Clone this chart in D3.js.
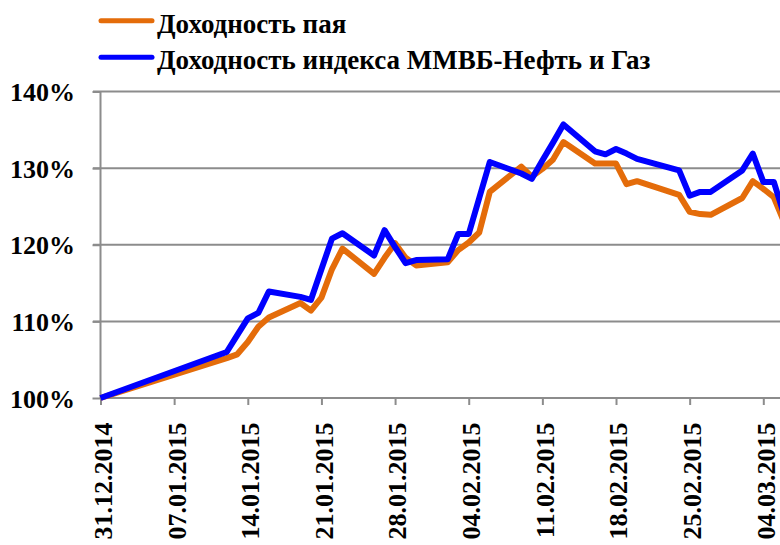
<!DOCTYPE html>
<html><head><meta charset="utf-8">
<script src="https://cdn.jsdelivr.net/npm/d3@7"></script>
<style>
html,body{margin:0;padding:0;background:#fff;}
svg{display:block;}
text{font-family:"Liberation Serif","Times New Roman",serif;font-weight:bold;fill:#000;}
</style></head>
<body>
<svg id="c" width="780" height="545"></svg>
<script>
const dates = ["31.12.2014","12.01.2015","13.01.2015","14.01.2015","15.01.2015","16.01.2015","19.01.2015","20.01.2015","21.01.2015","22.01.2015","23.01.2015","26.01.2015","27.01.2015","28.01.2015","29.01.2015","30.01.2015","02.02.2015","03.02.2015","04.02.2015","05.02.2015","06.02.2015","09.02.2015","10.02.2015","11.02.2015","12.02.2015","13.02.2015","16.02.2015","17.02.2015","18.02.2015","19.02.2015","20.02.2015","24.02.2015","25.02.2015","26.02.2015","27.02.2015","02.03.2015","03.03.2015","04.03.2015","05.03.2015","06.03.2015"];
const fundReturn = [100.0,105.2,105.7,107.3,109.3,110.5,112.4,111.4,113.1,116.8,119.5,116.2,118.3,120.2,118.3,117.3,117.7,119.3,120.3,121.6,126.9,130.2,128.9,129.9,131.1,133.4,130.6,130.6,130.6,127.9,128.3,126.5,124.3,124.0,123.9,126.1,128.3,127.3,126.2,122.9];
const indexReturn = [100.0,106.0,108.2,110.4,111.1,113.9,113.2,112.8,116.8,120.8,121.5,118.6,121.9,119.7,117.6,118.0,118.1,121.4,121.4,126.1,130.8,129.3,128.6,131.0,133.3,135.7,132.2,131.8,132.5,131.9,131.2,129.7,126.4,126.9,126.9,129.7,131.9,128.2,128.2,123.8];
const xTickLabels = ["31.12.2014","07.01.2015","14.01.2015","21.01.2015","28.01.2015","04.02.2015","11.02.2015","18.02.2015","25.02.2015","04.03.2015"];
const yTicks = [100,110,120,130,140];
const seriesNames = ["Доходность пая","Доходность индекса ММВБ-Нефть и Газ"];
const seriesColors = ["#E46C0A","#0000FF"];

const parse = d3.timeParse("%d.%m.%Y");
const svg = d3.select("#c");
const x = d3.scaleTime().domain([parse("31.12.2014"), parse("04.03.2015")]).range([100.5, 763.3]);
const y = d3.scaleLinear().domain([100,140]).range([398,91.5]);
const right = 780;
const grid = "#8C8C8C";
const FONT = "'Liberation Serif','Times New Roman',serif";

// gridlines
svg.append("g").selectAll("line").data(yTicks.filter(v=>v>100)).join("line")
  .attr("x1",93).attr("x2",right).attr("y1",d=>y(d)).attr("y2",d=>y(d))
  .attr("stroke",grid).attr("stroke-width",2);

// y axis
const yAxis = d3.axisLeft(y).tickValues(yTicks).tickSize(8).tickFormat(d=>d+"%");
const gy = svg.append("g").attr("transform","translate(100.5,0)").call(yAxis);
gy.select(".domain").attr("stroke",grid).attr("stroke-width",2).attr("d","M0,91.5V398");
gy.selectAll(".tick line").attr("stroke",grid).attr("stroke-width",2);
gy.selectAll(".tick text").attr("x",-25.5).attr("dy","0.35em")
  .style("font-size","26px").style("font-family",FONT).style("font-weight","bold");

// x axis
const tickDates = xTickLabels.map(parse);
const xAxis = d3.axisBottom(x).tickValues(tickDates).tickSize(7).tickFormat(d3.timeFormat("%d.%m.%Y"));
const gx = svg.append("g").attr("transform","translate(0,398)").call(xAxis);
gx.select(".domain").attr("stroke",grid).attr("stroke-width",2).attr("d","M100.5,0H"+right);
gx.selectAll(".tick line").attr("stroke",grid).attr("stroke-width",2);
gx.selectAll(".tick text")
  .attr("transform","translate(0,24.5) rotate(-90)")
  .attr("x",0).attr("y",0).attr("dy","0.42em")
  .attr("text-anchor","end")
  .style("font-size","26px").style("font-family",FONT).style("font-weight","bold");

// lines
const pts = dates.map(parse);
const line = d3.line().x((d,i)=>x(pts[i])).y(d=>y(d)).curve(d3.curveLinear);
svg.append("clipPath").attr("id","clip").append("rect").attr("x",0).attr("y",0).attr("width",right).attr("height",545);
const gl = svg.append("g").attr("clip-path","url(#clip)");
[fundReturn, indexReturn].forEach((s,k)=>{
  gl.append("path").datum(s).attr("d",line).attr("fill","none")
    .attr("stroke",seriesColors[k]).attr("stroke-width",6)
    .attr("stroke-linejoin","round").attr("stroke-linecap","butt");
});

// legend
const lg = svg.append("g");
seriesNames.forEach((n,k)=>{
  const cy = 20.7 + k*36.6;
  lg.append("line").attr("x1",101).attr("x2",152).attr("y1",cy).attr("y2",cy)
    .attr("stroke",seriesColors[k]).attr("stroke-width",5).attr("stroke-linecap","round");
  lg.append("text").attr("x",157).attr("y",cy+11.8)
    .style("font-size","27px").text(n);
});
</script>
</body></html>
